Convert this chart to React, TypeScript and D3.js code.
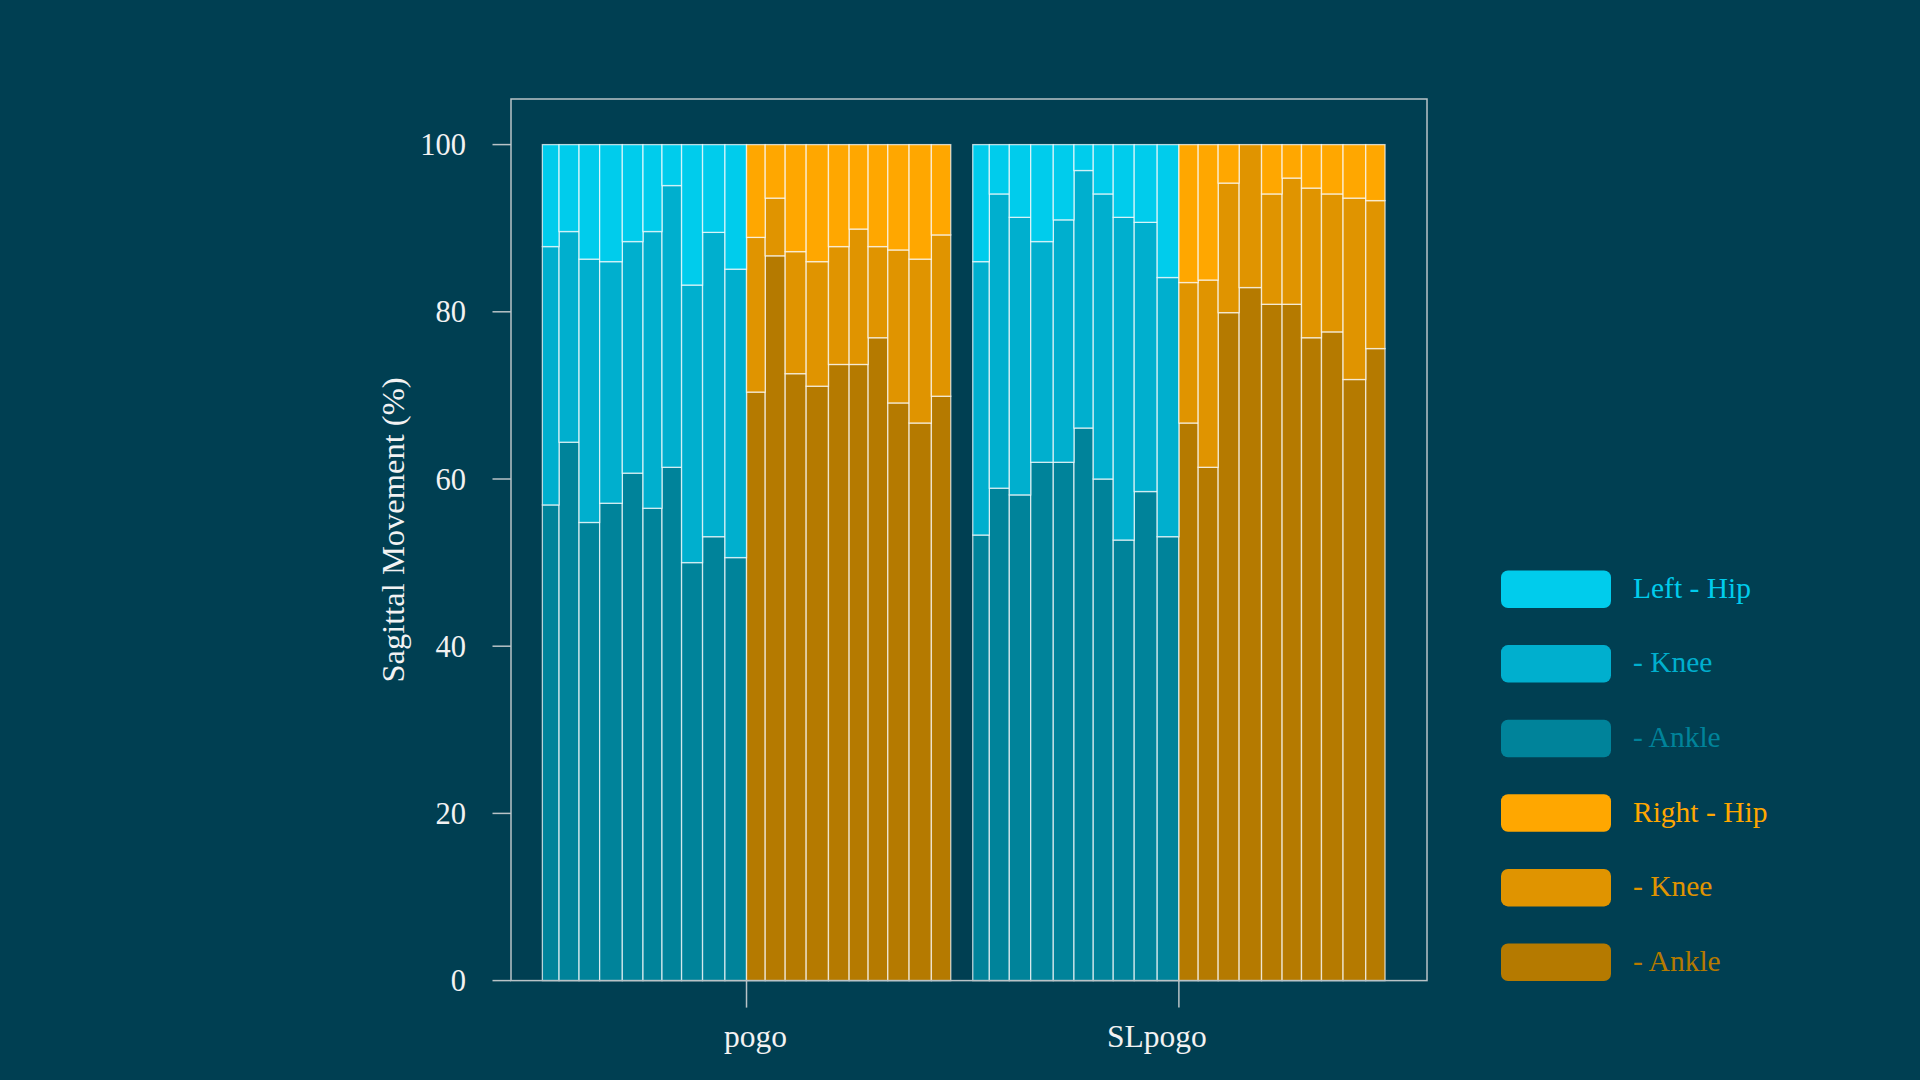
import * as d3 from "d3";

const conditions = ["pogo", "SLpogo"];
const sides = ["Left", "Right"];
const joints = ["Ankle", "Knee", "Hip"];
const yTicks = [0, 20, 40, 60, 80, 100];
const legendLabels = ["Left - Hip", "- Knee", "- Ankle", "Right - Hip", "- Knee", "- Ankle"];

// bar widths (10 subjects Left, then 10 subjects Right)
const pogoWidths = [16.7, 20, 20.6, 22.7, 20.7, 19, 19.6, 21, 22.4, 21.6, 18.7, 20, 21, 22.3, 20.7, 19, 19.7, 21.3, 22.3, 19.4];
const slWidths = [16.6, 20, 21.4, 22.6, 20.7, 19.3, 20, 21, 23, 21.7, 19.3, 20, 21, 22.4, 20.6, 19.4, 20, 21.6, 22.7, 19.3];

// share of sagittal movement (%) per joint
const pogoAnkle = [56.9, 64.4, 54.8, 57.1, 60.7, 56.5, 61.4, 50.0, 53.1, 50.6, 70.4, 86.7, 72.6, 71.1, 73.7, 73.7, 76.9, 69.1, 66.7, 69.9];
const pogoKnee = [30.9, 25.2, 31.5, 28.9, 27.7, 33.1, 33.7, 33.2, 36.4, 34.5, 18.5, 6.9, 14.6, 14.9, 14.1, 16.2, 10.9, 18.3, 19.6, 19.3];
const pogoHip = [12.2, 10.4, 13.7, 14.0, 11.6, 10.4, 4.9, 16.8, 10.5, 14.9, 11.1, 6.4, 12.8, 14.0, 12.2, 10.1, 12.2, 12.6, 13.7, 10.8];

const slAnkle = [53.3, 58.9, 58.1, 62.0, 62.0, 66.1, 60.0, 52.7, 58.5, 53.1, 66.7, 61.4, 79.9, 82.9, 80.9, 80.9, 76.9, 77.6, 71.9, 75.6];
const slKnee = [32.7, 35.2, 33.2, 26.4, 29.0, 30.8, 34.1, 38.6, 32.2, 31.0, 16.8, 22.4, 15.5, 17.1, 13.2, 15.1, 17.9, 16.5, 21.7, 17.7];
const slHip = [14.0, 5.9, 8.7, 11.6, 9.0, 3.1, 5.9, 8.7, 9.3, 15.9, 16.5, 16.2, 4.6, 0, 5.9, 4.0, 5.2, 5.9, 6.4, 6.7];

const colors: Record<string, string> = {
  "Left-Hip": "#00ccec",
  "Left-Knee": "#00afce",
  "Left-Ankle": "#00839a",
  "Right-Hip": "#ffa700",
  "Right-Knee": "#e09400",
  "Right-Ankle": "#b57a00",
};
const legendKeys = ["Left-Hip", "Left-Knee", "Left-Ankle", "Right-Hip", "Right-Knee", "Right-Ankle"];

const BG = "#003f52";
const FRAME = "#b9c3c7";
const TEXT = "#f2f2f2";
const FONT = "'Liberation Serif', 'Times New Roman', serif";

export default function App() {
  const groups = [
    { cond: conditions[0], widths: pogoWidths, Ankle: pogoAnkle, Knee: pogoKnee, Hip: pogoHip },
    { cond: conditions[1], widths: slWidths, Ankle: slAnkle, Knee: slKnee, Hip: slHip },
  ];

  const padL = 31.4, gap = 22, padR = 42;
  const totals = groups.map(g => d3.sum(g.widths));
  const offsets = [padL, padL + totals[0] + gap];
  const xMax = offsets[1] + totals[1] + padR;

  const frame = { left: 511, right: 1427, top: 99, bottom: 980.6 };
  const x = d3.scaleLinear().domain([0, xMax]).range([frame.left, frame.right]);
  const y = d3.scaleLinear().domain([0, 100]).range([frame.bottom, 144.6]);

  const stack = d3.stack<any>().keys(joints);

  const bars: { key: string; x0: number; x1: number; y0: number; y1: number }[] = [];
  const ticks: { cond: string; x: number }[] = [];
  groups.forEach((g, gi) => {
    const rows = g.widths.map((w, i) => ({
      side: sides[i < 10 ? 0 : 1],
      w,
      start: offsets[gi] + (i === 0 ? 0 : d3.sum(g.widths.slice(0, i))),
      Ankle: g.Ankle[i],
      Knee: g.Knee[i],
      Hip: g.Hip[i],
    }));
    const series = stack(rows);
    series.forEach(s => {
      s.forEach((p, i) => {
        const r = rows[i];
        bars.push({ key: `${r.side}-${s.key}`, x0: r.start, x1: r.start + r.w, y0: p[0], y1: p[1] });
      });
    });
    // tick sits between the Left and Right halves of each condition
    ticks.push({ cond: g.cond, x: offsets[gi] + d3.sum(g.widths.slice(0, 10)) });
  });

  const labelShift = [9, -22];
  const legendTop = 570.5, legendStep = 74.6, keyH = 37.5;

  return (
    <div style={{ position: "fixed", left: 0, top: 0, width: 1920, height: 1080, background: BG }}>
      <svg width={1920} height={1080} style={{ display: "block" }} fontFamily={FONT}>
        <rect width={1920} height={1080} fill={BG} />
        {bars.map((b, i) => (
          <rect
            key={i}
            x={x(b.x0)}
            y={y(b.y1)}
            width={x(b.x1) - x(b.x0)}
            height={Math.max(0, y(b.y0) - y(b.y1))}
            fill={colors[b.key]}
            stroke="#ffffff"
            strokeOpacity={0.72}
            strokeWidth={1.3}
          />
        ))}
        <rect
          x={frame.left}
          y={frame.top}
          width={frame.right - frame.left}
          height={frame.bottom - frame.top}
          fill="none"
          stroke={FRAME}
          strokeWidth={1.5}
        />
        {yTicks.map(t => (
          <g key={t}>
            <line x1={frame.left - 18.5} x2={frame.left} y1={y(t)} y2={y(t)} stroke={FRAME} strokeWidth={1.5} />
            <text x={466} y={y(t)} dy="0.35em" textAnchor="end" fill={TEXT} fontSize={30.5}>
              {t}
            </text>
          </g>
        ))}
        {ticks.map((t, i) => (
          <g key={t.cond}>
            <line x1={x(t.x)} x2={x(t.x)} y1={frame.bottom} y2={frame.bottom + 27} stroke={FRAME} strokeWidth={1.5} />
            <text x={x(t.x) + labelShift[i]} y={1047} textAnchor="middle" fill={TEXT} fontSize={31.5}>
              {t.cond}
            </text>
          </g>
        ))}
        <text transform={`translate(404,530) rotate(-90)`} textAnchor="middle" fill={TEXT} fontSize={32.5}>
          Sagittal Movement (%)
        </text>
        {legendKeys.map((k, i) => {
          const ky = legendTop + i * legendStep;
          return (
            <g key={k}>
              <rect x={1501} y={ky} width={110} height={keyH} rx={7} fill={colors[k]} />
              <text x={1633} y={ky + keyH / 2 + 8.5} fill={colors[k]} fontSize={29.5}>
                {legendLabels[i]}
              </text>
            </g>
          );
        })}
      </svg>
    </div>
  );
}
